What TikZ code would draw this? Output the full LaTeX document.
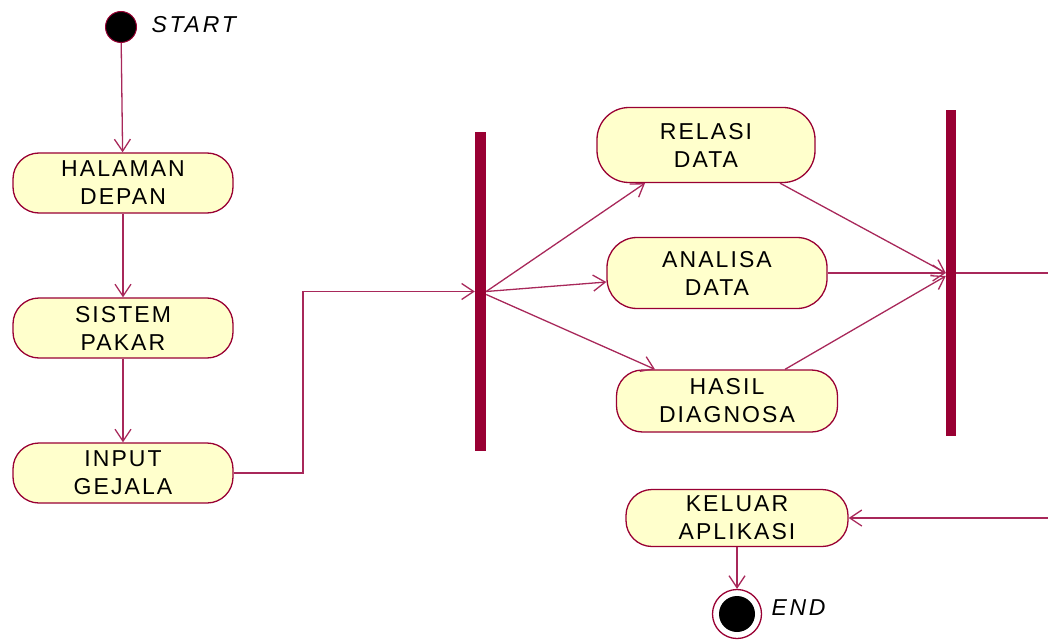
\documentclass[tikz,border=0pt]{standalone}
\usepackage{fontspec}
\setmainfont[LetterSpace=9]{Liberation Sans}
\newfontfamily\lblfont[LetterSpace=12]{Liberation Sans}
\usepackage{tikz}
\usetikzlibrary{arrows.meta}

\definecolor{umlred}{HTML}{990033}
\definecolor{umlline}{HTML}{A8285A}
\definecolor{umlfill}{HTML}{FFFFCC}

\begin{document}
\begin{tikzpicture}[x=1pt,y=-1pt,
		>={Straight Barb[length=12pt,width=16pt]},
		act/.style={draw=umlred,line width=1.3pt,fill=umlfill,rounded corners=26pt,
			minimum width=220pt,minimum height=60pt,align=center,inner sep=0pt,
			font=\fontsize{23}{28}\selectfont},
		bar/.style={fill=umlred,draw=none,minimum width=11pt,inner sep=0pt},
		flow/.style={draw=umlline,line width=1.3pt},
		lbl/.style={anchor=west,font=\lblfont\fontsize{23}{26}\selectfont\itshape}]
	\useasboundingbox (0,0) rectangle (1048,639);
	
	% start
	
	\node[circle,draw=umlred,line width=1pt,fill=black,minimum size=31pt,inner sep=0pt] (start) at (121,27) {};
	\node[lbl] (startlbl) at (148,25) {START};
	
	\node[act] (halaman) at (123,183) {HALAMAN\\DEPAN};
	\node[act] (sistem) at (123,328) {SISTEM\\PAKAR};
	\node[act] (input) at (123,473) {INPUT\\GEJALA};
	\draw[flow,->] (start) -- (halaman);
	\draw[flow,->] (halaman) -- (sistem);
	\draw[flow,->] (sistem) -- (input);
	
	% fork
	
	\node[bar,minimum height=319pt] (fork) at (480.5,291.5) {};
	\draw[flow,->] (input.east) -- (303,473) |- (fork.west);
	
	\node[act,minimum width=218pt,minimum height=75pt,rounded corners=32pt] (relasi) at (706,145) {RELASI\\DATA};
	\node[act,minimum height=71pt,rounded corners=30pt] (analisa) at (717,273) {ANALISA\\DATA};
	\node[act,minimum width=221pt,minimum height=62pt] (hasil) at (727,401) {HASIL\\DIAGNOSA};
	\draw[flow,->] (fork.east) -- ([xshift=-61pt]relasi.south);
	\draw[flow,->] (fork.east) -- ([yshift=-9pt]analisa.west);
	\draw[flow,->] ([yshift=-3pt]fork.east) -- ([xshift=-72pt]hasil.north);
	
	% join
	
	\node[bar,minimum width=10pt,minimum height=326pt] (join) at (951,273) {};
	\draw[flow,->] ([xshift=74pt]relasi.south) -- (join.west);
	\draw[flow,->] (analisa.east) -- (join.west);
	\draw[flow,->] ([xshift=58pt]hasil.north) -- ([yshift=-3pt]join.west);
	\coordinate (out) at (1048,273);
	\draw[flow] (join.east) -- (out);
	
	% end
	
	\coordinate (back) at (1048,518);
	\node[act,minimum width=222pt,minimum height=57pt] (keluar) at (737,518) {KELUAR\\APLIKASI};
	\draw[flow,->] (back) -- (keluar.east);
	
	\node[circle,draw=umlred,line width=1.3pt,fill=white,minimum size=49pt,inner sep=0pt] (end) at (737,614) {};
	\fill[black] (end.center) circle [radius=18];
	\node[lbl] (endlbl) at (768,608) {END};
	\draw[flow,->] (keluar.south) -- (end.north);
	
\end{tikzpicture}
\end{document}
